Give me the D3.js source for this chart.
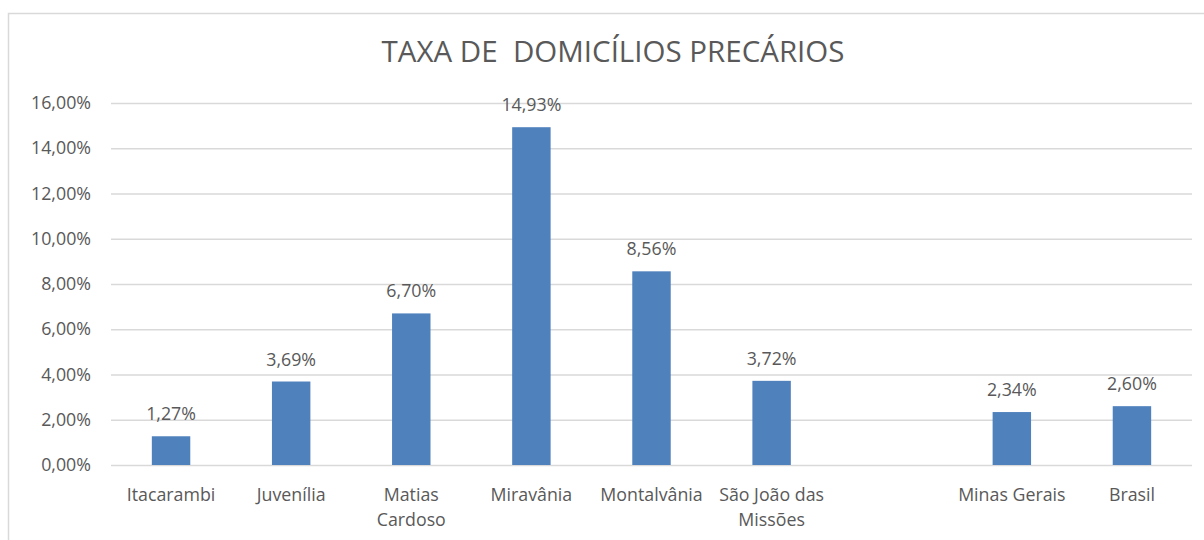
<!DOCTYPE html>
<html>
<head>
<meta charset="utf-8">
<script src="https://cdn.jsdelivr.net/npm/d3@7"></script>
<style>
  body { margin: 0; background: #fff; }
  text { font-family: "Open Sans", "Liberation Sans", sans-serif; fill: #595959; }
</style>
</head>
<body>
<svg id="chart" width="1204" height="540"></svg>
<script>
// categories ('' = empty slot between municipalities and reference regions)
const categories = ['Itacarambi', 'Juvenília', 'Matias Cardoso', 'Miravânia', 'Montalvânia',
    'São João das Missões', '', 'Minas Gerais', 'Brasil']
const values = [1.27, 3.69, 6.70, 14.93, 8.56, 3.72, null, 2.34, 2.60]
const yTicks = [0, 2, 4, 6, 8, 10, 12, 14, 16]
const labelLines = {
    'Matias Cardoso': ['Matias', 'Cardoso'],
    'São João das Missões': ['São João das', 'Missões'],
}

const fmt = v => v.toFixed(2).replace('.', ',') + '%'

function drawChart(svg) {
    const margin = { left: 111, right: 12, top: 103, bottom: 75 }
    const width = 1204, height = 540
    const fontSize = 17.8

    // outer frame
    svg.append('rect')
        .attr('x', 8.5).attr('y', 13.5)
        .attr('width', 1204).attr('height', 540)
        .attr('fill', 'none').attr('stroke', '#d9d9d9').attr('stroke-width', 1.5)

    svg.append('text')
        .attr('x', 613).attr('y', 62)
        .attr('text-anchor', 'middle')
        .attr('font-size', 29.5)
        .attr('xml:space', 'preserve')
        .text('TAXA DE  DOMICÍLIOS PRECÁRIOS')

    const x = d3.scaleBand()
        .domain(categories.map((c, i) => i))
        .range([margin.left, width - margin.right])
        .paddingInner(0.68).paddingOuter(0.34)

    const y = d3.scaleLinear()
        .domain([0, 16])
        .range([height - margin.bottom, margin.top])

    const yAxis = svg.append('g')
        .attr('transform', `translate(${margin.left},0)`)
        .call(d3.axisLeft(y).tickValues(yTicks).tickFormat(fmt)
            .tickSize(-(width - margin.right - margin.left)).tickPadding(20))
    yAxis.select('.domain').remove()
    yAxis.selectAll('line').attr('stroke', '#d9d9d9').attr('stroke-width', 1.3)
    yAxis.selectAll('text').attr('font-size', fontSize).attr('fill', '#595959')
        .attr('font-family', '"Open Sans", sans-serif')

    const data = categories.map((c, i) => ({ i, c, v: values[i] })).filter(d => d.v != null)

    svg.selectAll('rect.bar')
        .data(data)
        .enter()
        .append('rect')
        .attr('class', 'bar')
        .attr('x', d => x(d.i))
        .attr('width', x.bandwidth())
        .attr('y', d => y(d.v))
        .attr('height', d => y(0) - y(d.v))
        .attr('fill', '#4f81bd')

    svg.selectAll('text.value')
        .data(data)
        .enter()
        .append('text')
        .attr('class', 'value')
        .attr('x', d => x(d.i) + x.bandwidth() / 2)
        .attr('y', d => y(d.v) - 16)
        .attr('text-anchor', 'middle')
        .attr('font-size', fontSize)
        .text(d => fmt(d.v))

    const labels = svg.selectAll('text.cat')
        .data(categories.map((c, i) => ({ c, i })).filter(d => d.c))
        .enter()
        .append('text')
        .attr('class', 'cat')
        .attr('x', d => x(d.i) + x.bandwidth() / 2)
        .attr('y', y(0) + 36)
        .attr('text-anchor', 'middle')
        .attr('font-size', fontSize)

    labels.selectAll('tspan')
        .data(d => (labelLines[d.c] || [d.c]).map(t => ({ t, xPos: x(d.i) + x.bandwidth() / 2 })))
        .enter()
        .append('tspan')
        .attr('x', d => d.xPos)
        .attr('dy', (d, k) => (k === 0 ? 0 : 25))
        .text(d => d.t)
}

drawChart(d3.select('#chart'))
</script>
</body>
</html>
